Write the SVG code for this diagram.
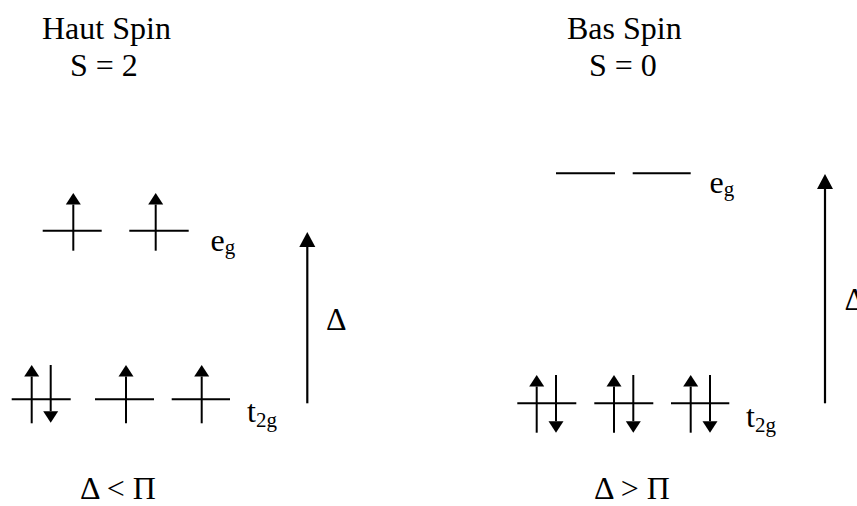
<svg xmlns="http://www.w3.org/2000/svg" width="857" height="506" viewBox="0 0 857 506">
<defs>
<style>
text{font-family:"Liberation Serif","Times New Roman",serif;fill:#000}
.t{font-size:32px}
.s{font-size:21px}
.lvl{stroke:#000;stroke-width:2;fill:none}
.e{stroke:#000;stroke-width:2;fill:none;marker-end:url(#hs)}
.d{stroke:#000;stroke-width:2.2;fill:none;marker-end:url(#hb)}
</style>
<marker id="hs" markerUnits="userSpaceOnUse" markerWidth="12" markerHeight="16" viewBox="0 -8 12 16" refX="0" refY="0" orient="auto"><path d="M0,-7.5 L11.5,0 L0,7.5 Z" fill="#000"/></marker>
<marker id="hb" markerUnits="userSpaceOnUse" markerWidth="16" markerHeight="18" viewBox="0 -9 16 18" refX="0" refY="0" orient="auto"><path d="M0,-8 L15,0 L0,8 Z" fill="#000"/></marker>
</defs>

<g id="title-high-spin">
<text class="t" x="42" y="39">Haut Spin</text>
<text class="t" x="70" y="76">S = 2</text>
</g>
<g id="title-low-spin">
<text class="t" x="567" y="39">Bas Spin</text>
<text class="t" x="589" y="76">S = 0</text>
</g>

<g id="hs-eg">
<line class="lvl" x1="42.7" y1="230.7" x2="101.7" y2="230.7"/>
<line class="e" x1="73.3" y1="250.7" x2="73.3" y2="204.5"/>
<line class="lvl" x1="129.3" y1="230.7" x2="188.7" y2="230.7"/>
<line class="e" x1="155.7" y1="250.7" x2="155.7" y2="204.5"/>
<text class="t" x="210.5" y="250.7">e<tspan class="s" dy="3">g</tspan></text>
</g>

<g id="hs-t2g">
<line class="lvl" x1="11.7" y1="399.3" x2="70.7" y2="399.3"/>
<line class="e" x1="31.7" y1="423.3" x2="31.7" y2="376.5"/>
<line class="e" x1="50.7" y1="365" x2="50.7" y2="411.2"/>
<line class="lvl" x1="95" y1="399.3" x2="154" y2="399.3"/>
<line class="e" x1="126" y1="423.3" x2="126" y2="376.5"/>
<line class="lvl" x1="171.7" y1="399.3" x2="230" y2="399.3"/>
<line class="e" x1="201.7" y1="423.3" x2="201.7" y2="376.5"/>
<text class="t" x="247" y="422">t<tspan class="s" dy="5">2g</tspan></text>
</g>

<g id="ls-eg">
<line class="lvl" x1="556" y1="173.3" x2="615" y2="173.3"/>
<line class="lvl" x1="632.7" y1="173.3" x2="690.7" y2="173.3"/>
<text class="t" x="709.5" y="193.3">e<tspan class="s" dy="3">g</tspan></text>
</g>

<g id="ls-t2g">
<line class="lvl" x1="517.3" y1="403.3" x2="576.3" y2="403.3"/>
<line class="e" x1="536.7" y1="432.7" x2="536.7" y2="386.5"/>
<line class="e" x1="556" y1="375" x2="556" y2="421.2"/>
<line class="lvl" x1="594.3" y1="403.3" x2="653.3" y2="403.3"/>
<line class="e" x1="614" y1="432.7" x2="614" y2="386.5"/>
<line class="e" x1="633.3" y1="375" x2="633.3" y2="421.2"/>
<line class="lvl" x1="671" y1="403.3" x2="729.3" y2="403.3"/>
<line class="e" x1="690.7" y1="432.7" x2="690.7" y2="386.5"/>
<line class="e" x1="710" y1="375" x2="710" y2="421.2"/>
<text class="t" x="746" y="427">t<tspan class="s" dy="5">2g</tspan></text>
</g>

<g id="connectors">
<line class="d" x1="307.3" y1="403.3" x2="307.3" y2="247"/>
<line class="d" x1="825" y1="403.3" x2="825" y2="189"/>
</g>

<g id="delta-labels">
<text class="t" x="326" y="330">Δ</text>
<text class="t" x="844.5" y="310">Δ</text>
</g>

<g id="conditions">
<text class="t" x="80" y="499">Δ &lt; Π</text>
<text class="t" x="594" y="499">Δ &gt; Π</text>
</g>
</svg>
